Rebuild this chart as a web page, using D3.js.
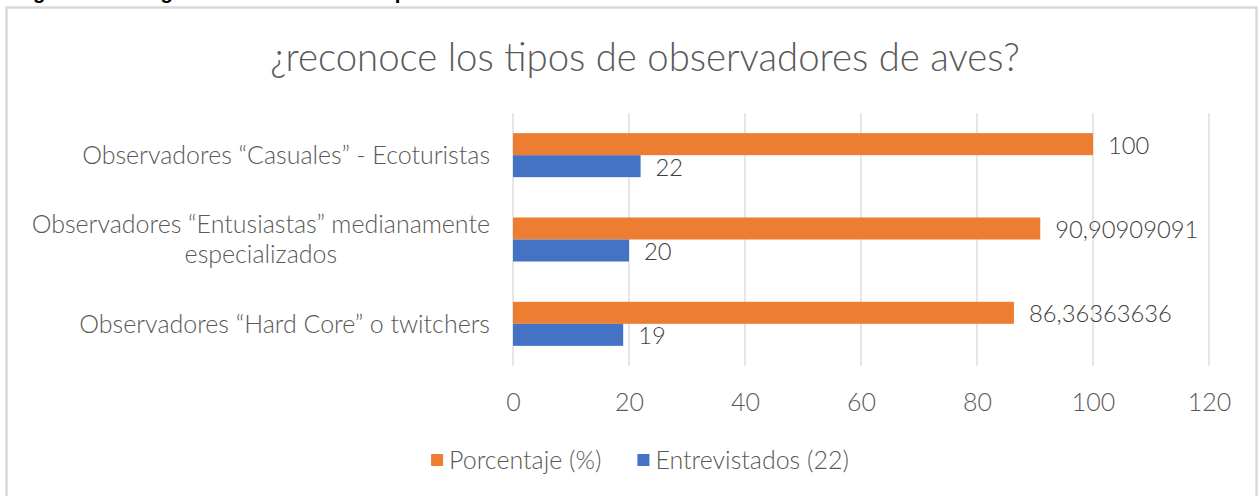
<!DOCTYPE html>
<html>
<head>
<meta charset="utf-8">
<script src="https://cdn.jsdelivr.net/npm/d3@7"></script>
<style>
  html, body { margin: 0; padding: 0; background: #fff; }
  svg { display: block; }
</style>
</head>
<body>
<div id="chart"></div>
<script>
// datos
const categorias = [
  ["Observadores “Casuales” - Ecoturistas"],
  ["Observadores “Entusiastas” medianamente", "especializados"],
  ["Observadores “Hard Core” o twitchers"]
];
const porcentaje = [100, 90.90909091, 86.36363636];
const entrevistados = [22, 20, 19];
const series = ["Porcentaje (%)", "Entrevistados (22)"];
const colores = ["#ED7D31", "#4472C4"];
const xTicks = [0, 20, 40, 60, 80, 100, 120];

const W = 1260, H = 496;
const FONT = "Lato, 'Open Sans', 'Noto Sans', sans-serif";
const GRIS = "#595959";

const svg = d3.select("#chart").append("svg").attr("width", W).attr("height", H);
svg.append("rect").attr("width", W).attr("height", H).attr("fill", "#fff");

// pie de figura cortado arriba (solo se ven los trazos descendentes)
svg.append("text")
  .attr("x", 15).attr("y", -1)
  .style("font-family", "'Liberation Sans', Arial, sans-serif")
  .style("font-weight", "bold").style("font-size", "20.3px").style("fill", "#000")
  .text("Figura 12. Categorías de observadores presentes");

// marco del gráfico
svg.append("rect")
  .attr("x", 6.5).attr("y", 7.5).attr("width", 1250).attr("height", 500)
  .attr("fill", "#fff").attr("stroke", "#d9d9d9").attr("stroke-width", 2.5);

// mide un texto a 20px
function medir(txt, weight, size) {
  const t = svg.append("text").style("font-family", FONT).style("font-weight", weight || 400)
    .style("font-size", (size || 20) + "px").text(txt);
  const w = t.node().getComputedTextLength();
  t.remove();
  return w;
}
// ajusta el tamaño de letra para que un texto mida lo que mide en la imagen
const fitSize = (txt, target, weight) => 20 * target / medir(txt, weight, 20);
const fsBase = fitSize("Observadores “Casuales” - Ecoturistas", 408, 300);
const fsTitle = fitSize("¿reconoce los tipos de observadores de aves?", 750, 300);
// etiquetas de datos: letra alta pero estrecha, como Calibri
const kLbl = 143 / medir("90,90909091", 300, 24);

// título
svg.append("text")
  .attr("x", 645).attr("y", 58).attr("dy", "0.35em")
  .attr("text-anchor", "middle")
  .style("font-family", FONT).style("font-weight", 300)
  .style("font-size", fsTitle + "px").style("fill", GRIS)
  .text("¿reconoce los tipos de observadores de aves?");

// escalas
const x = d3.scaleLinear().domain([0, 120]).range([513, 1209]);
const y = d3.scaleBand().domain(d3.range(categorias.length)).range([113, 366])
  .paddingInner(0.478).paddingOuter(0.239);
const ySub = d3.scaleBand().domain([0, 1]).range([0, y.bandwidth()]);

// rejilla vertical
svg.append("g").selectAll("line").data(xTicks).join("line")
  .attr("x1", d => x(d)).attr("x2", d => x(d))
  .attr("y1", 113).attr("y2", 366)
  .attr("stroke", "#d9d9d9").attr("stroke-width", 1.3);

// eje x (solo etiquetas)
const ax = svg.append("g").attr("transform", "translate(0,402)")
  .call(d3.axisBottom(x).tickValues(xTicks).tickSize(0).tickPadding(0));
ax.select(".domain").remove();
ax.selectAll("text")
  .attr("dy", "0.35em")
  .style("font-family", FONT).style("font-weight", 300)
  .style("font-size", fsBase + "px").style("fill", GRIS);

// barras
const filas = categorias.map((c, i) => ({ i, valores: [porcentaje[i], entrevistados[i]] }));
const grupos = svg.append("g").selectAll("g").data(filas).join("g")
  .attr("transform", d => `translate(0,${y(d.i)})`);

grupos.selectAll("rect").data(d => d.valores.map((v, s) => ({ v, s }))).join("rect")
  .attr("x", x(0)).attr("y", d => ySub(d.s))
  .attr("width", d => x(d.v) - x(0)).attr("height", ySub.bandwidth())
  .attr("fill", d => colores[d.s]);

// etiquetas de datos
const fmt = v => String(v).replace(".", ",");
grupos.selectAll("text.lbl").data(d => d.valores.map((v, s) => ({ v, s }))).join("text")
  .attr("class", "lbl")
  .attr("x", d => x(d.v) + 15).attr("y", d => ySub(d.s) + ySub.bandwidth() / 2 + 1)
  .attr("dy", "0.35em")
  .style("font-family", FONT).style("font-weight", 300)
  .style("font-size", "24px").style("fill", "#404040")
  .text(d => fmt(d.v))
  .each(function () {
    const w = this.getComputedTextLength();
    d3.select(this).attr("textLength", w * kLbl).attr("lengthAdjust", "spacingAndGlyphs");
  });

// etiquetas de categoría
categorias.forEach((lineas, i) => {
  const cy = y(i) + y.bandwidth() / 2;
  const g = svg.append("g");
  const t = g.selectAll("text").data(lineas).join("text")
    .attr("y", (d, k) => cy + (k - (lineas.length - 1) / 2) * 30)
    .attr("dy", "0.35em")
    .style("font-family", FONT).style("font-weight", 300)
    .style("font-size", fsBase + "px").style("fill", GRIS)
    .text(d => d);
  const wMax = d3.max(t.nodes(), n => n.getComputedTextLength());
  t.attr("x", 490 - wMax / 2).attr("text-anchor", "middle");
});

// leyenda
const leg = svg.append("g");
let lx = 0;
series.forEach((s, i) => {
  leg.append("rect").attr("x", lx).attr("y", -6).attr("width", 12).attr("height", 12)
    .attr("fill", colores[i]);
  const t = leg.append("text").attr("x", lx + 18).attr("y", 0).attr("dy", "0.35em")
    .style("font-family", FONT).style("font-weight", 300)
    .style("font-size", fsBase + "px").style("fill", GRIS).text(s);
  lx += 18 + t.node().getComputedTextLength() + 36;
});
lx -= 36;
leg.attr("transform", `translate(${640 - lx / 2},460)`);
</script>
</body>
</html>
